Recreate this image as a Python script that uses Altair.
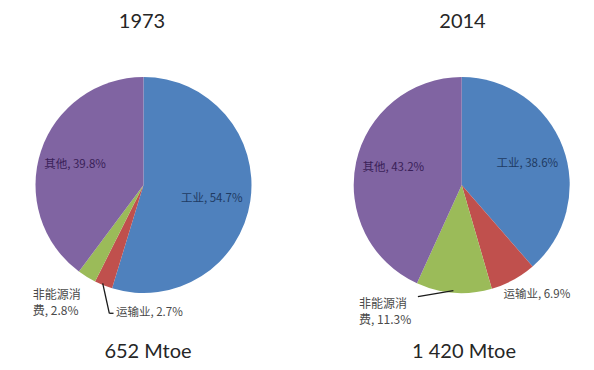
import altair as alt
import pandas as pd

# ---- data ----
years = ["1973", "2014"]
categories = ["工业", "运输业", "非能源消费", "其他"]
values_1973 = [54.7, 2.7, 2.8, 39.8]
values_2014 = [38.6, 6.9, 11.3, 43.2]
totals = ["652 Mtoe", "1 420 Mtoe"]
colors = ["#4F81BD", "#C0504D", "#9BBB59", "#8064A2"]

rows = []
for yr, vals in zip(years, [values_1973, values_2014]):
    for i, (c, v) in enumerate(zip(categories, vals)):
        if c == "非能源消费":
            label = f"非能源消\n费, {v}%"
        else:
            label = f"{c}, {v}%"
        rows.append({"year": yr, "category": c, "value": v, "order": i, "label": label})
df = pd.DataFrame(rows)

# ---- layout (chart coordinates) ----
R = 108
centers = {"1973": (135.5, 177.0), "2014": (453.7, 177.0)}
FONT = "Noto Sans CJK SC"


def base(yr):
    return (
        alt.Chart(df)
        .transform_filter(alt.datum.year == yr)
        .transform_joinaggregate(total="sum(value)")
        .transform_window(cum="sum(value)", sort=[alt.SortField("order")], frame=[None, 0])
        .transform_calculate(mid="PI * (2 * datum.cum - datum.value) / datum.total")
    )


def pie(yr):
    cx, cy = centers[yr]
    return (
        alt.Chart(df)
        .transform_filter(alt.datum.year == yr)
        .mark_arc(radius=R)
        .encode(
            theta=alt.Theta("value:Q", stack=True),
            color=alt.Color("category:N", scale=alt.Scale(domain=categories, range=colors), legend=None),
            order=alt.Order("order:Q"),
            x=alt.value(cx),
            y=alt.value(cy),
        )
    )


def label(yr, cat, r, dx, dy, align, color, size):
    cx, cy = centers[yr]
    return (
        base(yr)
        .transform_filter(alt.datum.category == cat)
        .transform_calculate(
            px=f"{cx} + {r} * sin(datum.mid) + {dx}",
            py=f"{cy} - {r} * cos(datum.mid) + {dy}",
        )
        .mark_text(font=FONT, fontSize=size, align=align, baseline="middle", color=color,
                   lineBreak="\n", lineHeight=16)
        .encode(x=alt.X("px:Q", scale=None), y=alt.Y("py:Q", scale=None), text="label:N")
    )


def leader(yr, cat, p0, p1):
    cx, cy = centers[yr]
    return (
        base(yr)
        .transform_filter(alt.datum.category == cat)
        .transform_calculate(
            ex=f"{cx} + {R} * sin(datum.mid)",
            ey=f"{cy} - {R} * cos(datum.mid)",
        )
        .transform_calculate(
            x0=f"datum.ex + {p0[0]}", y0=f"datum.ey + {p0[1]}",
            x1=f"datum.ex + {p1[0]}", y1=f"datum.ey + {p1[1]}",
        )
        .mark_rule(color="#1a1a1a", strokeWidth=1.3)
        .encode(
            x=alt.X("x0:Q", scale=None), y=alt.Y("y0:Q", scale=None),
            x2="x1:Q", y2="y1:Q",
        )
    )


def title(txt, x, y):
    return (
        alt.Chart(pd.DataFrame({"t": [txt]}))
        .mark_text(font="Lato", fontSize=20, color="#262626", align="center", baseline="middle")
        .encode(text="t:N", x=alt.value(x), y=alt.value(y))
    )


inner_blue = "#1F3B63"
inner_purple = "#3A1F58"
outer = "#4a4a4a"

layers = [
    pie("1973"),
    pie("2014"),
    # 1973 labels
    label("1973", "工业", 70, -1, 4, "center", inner_blue, 11.5),
    label("1973", "其他", 70, -2, 2, "center", inner_purple, 11.5),
    label("1973", "运输业", R, 12.5, 28, "left", outer, 11.5),
    label("1973", "非能源消费", R, -54, 18, "left", outer, 12),
    leader("1973", "运输业", (-0.7, -2), (5.9, 28)),
    leader("1973", "运输业", (5.9, 28), (10.1, 28)),
    # 2014 labels
    label("2014", "工业", 70, 0, 3.5, "center", inner_blue, 11.5),
    label("2014", "其他", 70, 0, -2, "center", inner_purple, 11.5),
    label("2014", "运输业", R, -10, 15, "left", outer, 11.5),
    label("2014", "非能源消费", R, -95, 11, "left", outer, 12),
    leader("2014", "非能源消费", (-0.5, -2), (-36, 4)),
    # titles
    title(years[0], 134, 14),
    title(years[1], 454.5, 14),
    title(totals[0], 140, 344),
    title(totals[1], 456, 344),
]

chart = (
    alt.layer(*layers)
    .properties(width=578, height=354, padding=0)
    .configure_view(stroke=None)
)

chart.save("out.html", embed_options={"renderer": "svg", "actions": False})
